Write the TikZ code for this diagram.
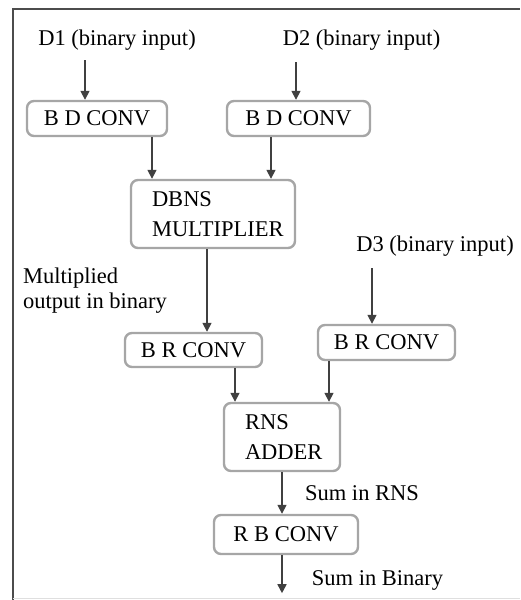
\documentclass[tikz,border=0pt]{standalone}
\usepackage{fontspec}
\setmainfont{Liberation Serif}
\usetikzlibrary{arrows.meta}
\tikzset{
  x=1pt, y=-1pt,
  blk/.style={draw=gray!70, line width=2.4pt, rounded corners=7pt, fill=white,
    inner sep=0pt, font=\fontsize{22.5}{30}\selectfont},
  blk2/.style={blk, align=left, inner xsep=21pt},
  lbl/.style={inner sep=0pt, font=\fontsize{22.5}{25}\selectfont},
  arr/.style={draw=black!75, line width=1.6pt, -{Triangle[width=9pt,length=9pt]}},
}
\begin{document}
\begin{tikzpicture}
\useasboundingbox (0,0) rectangle (520,600);
% outer frame
\draw[line width=2pt, black!70] (13,600) -- (13,9) -- (520,9);
\draw[line width=1pt, gray!25] (13,598) -- (520,598);

% labels
\node[lbl] (d1) at (117,40) {D1 (binary input)};
\node[lbl] (d2) at (361.5,40) {D2 (binary input)};
\node[lbl] (d3) at (435,246) {D3 (binary input)};
\node[lbl, align=left, anchor=west] (mout) at (23,291) {Multiplied\\output in binary};
\node[lbl] (srns) at (362,493) {Sum in RNS};
\node[lbl] (sbin) at (377.5,580) {Sum in Binary};

% blocks
\node[blk, minimum width=140pt, minimum height=35pt] (bd1) at (97,118.5) {B D CONV};
\node[blk, minimum width=143pt, minimum height=35pt] (bd2) at (298.5,118.5) {B D CONV};
\node[blk2, text width=122pt, minimum height=68pt] (mult) at (213,214) {DBNS\\MULTIPLIER};
\node[blk, minimum width=137pt, minimum height=34pt] (br1) at (193.5,350) {B R CONV};
\node[blk, minimum width=137pt, minimum height=35pt] (br2) at (386.5,342.5) {B R CONV};
\node[blk2, text width=74pt, minimum height=68pt] (add) at (282,437) {RNS\\ADDER};
\node[blk, minimum width=144pt, minimum height=39pt] (rb) at (286,534.5) {R B CONV};

% connector end points
\coordinate (i1) at (85,60);
\coordinate (i2) at (296,62);
\coordinate (i3) at (372,268);
\coordinate (p1) at ([xshift=55pt]bd1.south);
\coordinate (p2) at ([xshift=-27.5pt]bd2.south);
\coordinate (p3) at ([xshift=-6pt]mult.south);
\coordinate (p4) at ([xshift=41.5pt]br1.south);
\coordinate (p5) at ([xshift=-57.5pt]br2.south);
\coordinate (p6) at (add.south);
\coordinate (p7) at ([xshift=-4pt]rb.south);
\coordinate (out) at ([yshift=-38pt]p7);

% connectors
\draw[arr] (i1) -- (i1 |- bd1.north);
\draw[arr] (i2) -- (i2 |- bd2.north);
\draw[arr] (p1) -- (p1 |- mult.north);
\draw[arr] (p2) -- (p2 |- mult.north);
\draw[arr] (p3) -- (p3 |- br1.north);
\draw[arr] (i3) -- (i3 |- br2.north);
\draw[arr] (p4) -- (p4 |- add.north);
\draw[arr] (p5) -- (p5 |- add.north);
\draw[arr] (p6) -- (p6 |- rb.north);
\draw[arr] (p7) -- (out);
\end{tikzpicture}
\end{document}
